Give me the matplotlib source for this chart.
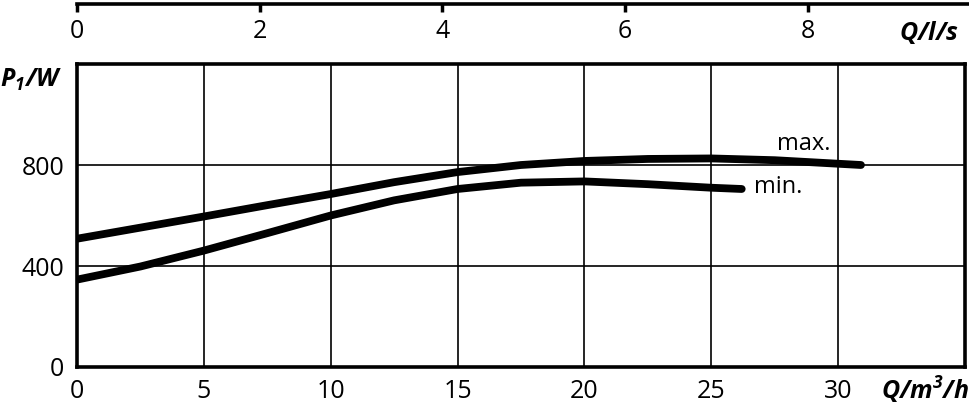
import matplotlib
matplotlib.use('Agg')
import matplotlib.pyplot as plt

# # data
# ====================
q_max = [0, 2.5, 5, 7.5, 10, 12.5, 15, 17.5, 20, 22.5, 25, 27.5, 30, 30.9]
p_max = [508, 552, 596, 641, 685, 732, 772, 800, 816, 824, 826, 819, 805, 800]

q_min = [0, 2.5, 5, 7.5, 10, 12.5, 15, 17.5, 20, 22.5, 25, 26.2]
p_min = [346, 398, 461, 530, 600, 660, 705, 730, 735, 724, 710, 705]

x_ticks = [0, 5, 10, 15, 20, 25, 30]
y_ticks = [0, 400, 800]
top_ticks = [0, 2, 4, 6, 8]   # l/s

# # fonts
# ====================
plt.rcParams['font.family'] = ['Open Sans', 'DejaVu Sans']
plt.rcParams['mathtext.fontset'] = 'custom'
plt.rcParams['mathtext.bf'] = 'Open Sans:italic:bold'
plt.rcParams['mathtext.rm'] = 'Open Sans'

W, H = 970, 405
fig = plt.figure(figsize=(W / 100, H / 100), dpi=100)

# # main axes
# ====================
left, right, top, bottom = 77, 965, 64, 367
ax = fig.add_axes([left / W, (H - bottom) / H, (right - left) / W, (bottom - top) / H])
ax.set_xlim(0, 35)
ax.set_ylim(0, 1200)
ax.set_xticks(x_ticks)
ax.set_yticks(y_ticks)
ax.grid(True, color='black', linewidth=1.2)
ax.set_axisbelow(True)
ax.tick_params(length=0, labelsize=18, pad=9)
for s in ax.spines.values():
    s.set_linewidth(2.6)

ax.plot(q_max, p_max, color='black', linewidth=5.6, solid_capstyle='round')
ax.plot(q_min, p_min, color='black', linewidth=5.6, solid_capstyle='round')

ax.text(27.6, 882, 'max.', fontsize=17, ha='left', va='center')
ax.text(26.7, 712, 'min.', fontsize=17, ha='left', va='center')

# # top axis in l/s
# ====================
top_right = 970
ax2 = fig.add_axes([left / W, (H - 4) / H, (top_right - left) / W, 1e-4])
ax2.set_xlim(0, (top_right - left) / ((right - left) / 35) / 3.6)
for k in ['top', 'left', 'right']:
    ax2.spines[k].set_visible(False)
ax2.spines['bottom'].set_linewidth(2.6)
ax2.set_yticks([])
ax2.set_xticks(top_ticks)
ax2.tick_params(axis='x', direction='out', length=6, width=2.5, labelsize=18, pad=5)
ax2.patch.set_visible(False)

# # axis titles
# ====================
fig.text(62 / W, 1 - 80 / H, r'$\mathbf{P_1/W}$', fontsize=18, ha='right', va='center')
fig.text(959 / W, 1 - 33 / H, r'$\mathbf{Q/l/s}$', fontsize=18, ha='right', va='center')
fig.text(969 / W, 1 - 390 / H, r'$\mathbf{Q/m^3/h}$', fontsize=18, ha='right', va='center')

fig.savefig('out.png', dpi=100)
